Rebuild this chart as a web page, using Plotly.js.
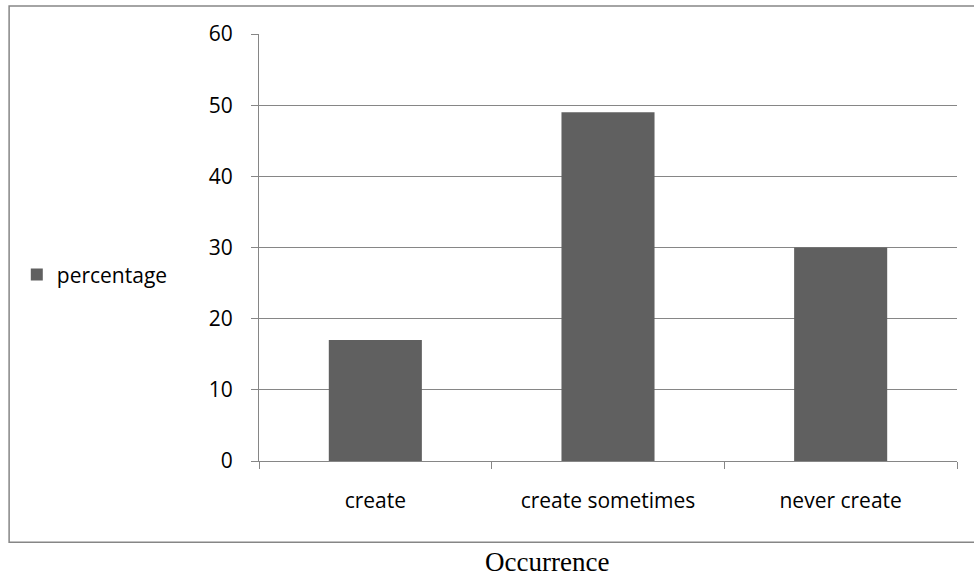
<!DOCTYPE html>
<html>
<head>
<meta charset="utf-8">
<script src="https://cdn.plot.ly/plotly-3.0.1.min.js"></script>
<style>html,body{margin:0;padding:0;background:#fff;}#chart{width:974px;height:577px;}</style>
</head>
<body>
<div id="chart"></div>
<script>
const categories = ["create", "create sometimes", "never create"];
const percentage = [17, 49, 30];
const yTicks = [0, 10, 20, 30, 40, 50, 60];
const seriesName = "percentage";
const axisTitle = "Occurrence";

const gray = "#868686";
const trace = {
  type: "bar",
  x: categories,
  y: percentage,
  name: seriesName,
  marker: {color: "#606060", line: {width: 0}},
  showlegend: true,
  hoverinfo: "x+y"
};

const layout = {
  width: 974,
  height: 577,
  margin: {l: 259, r: 17, t: 34, b: 116},
  paper_bgcolor: "#ffffff",
  plot_bgcolor: "#ffffff",
  font: {family: "Open Sans, sans-serif", size: 21, color: "#000000"},
  bargap: 0.6,
  showlegend: true,
  legend: {
    x: -0.347, y: 0.436, xanchor: "left", yanchor: "middle",
    font: {family: "Open Sans, sans-serif", size: 21, color: "#000000"},
    bgcolor: "rgba(0,0,0,0)", borderwidth: 0, itemwidth: 30
  },
  xaxis: {
    type: "category",
    showgrid: false,
    showline: true, linecolor: gray, linewidth: 1,
    ticks: "outside", tickson: "boundaries", ticklen: 7, tickcolor: gray, tickwidth: 1,
    ticklabelstandoff: 21,
    tickfont: {family: "Open Sans, sans-serif", size: 21, color: "#000000"},
    zeroline: false
  },
  yaxis: {
    range: [0, 60],
    tickvals: yTicks,
    ticktext: yTicks.map(String),
    showgrid: true, gridcolor: gray, gridwidth: 1,
    showline: true, linecolor: gray, linewidth: 1,
    ticks: "outside", ticklen: 7, tickcolor: gray, tickwidth: 1,
    ticklabelstandoff: 14,
    tickfont: {family: "Open Sans, sans-serif", size: 21, color: "#000000"},
    zeroline: false
  },
  shapes: [{
    type: "rect", xref: "paper", yref: "paper",
    x0: -0.358, x1: 1.04, y0: -0.19, y1: 1.0656,
    line: {color: gray, width: 1.5}, fillcolor: "rgba(0,0,0,0)", layer: "below"
  }],
  annotations: [{
    text: axisTitle, xref: "paper", yref: "paper",
    x: 0.413, y: -0.2365, xanchor: "center", yanchor: "middle",
    showarrow: false,
    font: {family: "Liberation Serif, Times New Roman, serif", size: 27, color: "#000000"}
  }]
};

Plotly.newPlot("chart", [trace], layout, {displayModeBar: false, staticPlot: true});
</script>
</body>
</html>
